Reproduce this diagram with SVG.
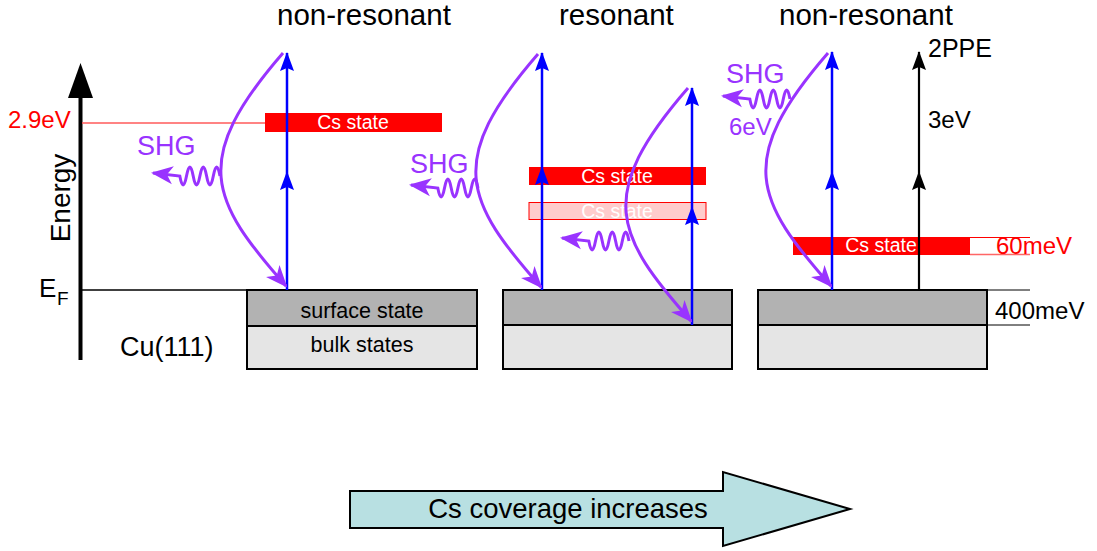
<svg xmlns="http://www.w3.org/2000/svg" width="1097" height="551" viewBox="0 0 1097 551">
<style>
text{font-family:"Liberation Sans",Arial,sans-serif}
.title{font-size:29.5px;fill:#000}
.lbl{font-size:24px}
.shg{font-size:27px;fill:#9933ff}
.cs{font-size:19.5px;fill:#fff;text-anchor:middle}
.box{font-size:21.5px;fill:#000;text-anchor:middle}
.surf{fill:#b2b2b2;stroke:#000;stroke-width:2}
.bulk{fill:#e5e5e5;stroke:#000;stroke-width:2}
.blue{stroke:#0000ff;stroke-width:2.5;fill:none;marker-end:url(#ab)}
.blk{stroke:#000;stroke-width:2.2;fill:none;marker-end:url(#ak)}
.pur{stroke:#9933ff;stroke-width:3;fill:none;marker-end:url(#ap)}
</style>
<defs>
<marker id="ab" markerUnits="userSpaceOnUse" markerWidth="26" markerHeight="20" viewBox="-22 -10 26 20" refX="0" refY="0" orient="auto"><path d="M1,0 L-18,-7 L-15,0 L-18,7 Z" fill="#0000ff"/></marker>
<marker id="ak" markerUnits="userSpaceOnUse" markerWidth="26" markerHeight="20" viewBox="-22 -10 26 20" refX="0" refY="0" orient="auto"><path d="M1,0 L-18,-7 L-15,0 L-18,7 Z" fill="#000"/></marker>
<marker id="ap" markerUnits="userSpaceOnUse" markerWidth="30" markerHeight="24" viewBox="-25 -12 30 24" refX="0" refY="0" orient="auto"><path d="M2,0 L-20,-9 L-14,0 L-20,9 Z" fill="#9933ff"/></marker>
<path id="curve" d="M283,53 C190,160 210,200 286,286"/>
<path id="wave" d="M220,178 q-3.3,-18 -6.7,0 t-6.7,0 t-6.7,0 t-6.7,0 t-6.7,0 t-6.7,0 L153,175"/>
</defs>

<g id="titles">
<text class="title" x="277" y="25">non-resonant</text>
<text class="title" x="559" y="25">resonant</text>
<text class="title" x="779" y="25">non-resonant</text>
</g>

<g id="axis">
<line x1="80.5" y1="95" x2="80.5" y2="360" stroke="#000" stroke-width="4"/>
<polygon points="80.5,63 68,98 93,98" fill="#000"/>
<text transform="translate(70,198) rotate(-90)" text-anchor="middle" style="font-size:28px">Energy</text>
<text x="39" y="297" style="font-size:26px">E<tspan x="57" y="305" style="font-size:19px">F</tspan></text>
<line x1="82" y1="290" x2="247" y2="290" stroke="#000" stroke-width="1.5"/>
<line x1="82" y1="123" x2="265" y2="123" stroke="#ff5a5a" stroke-width="1.5"/>
<text class="lbl" x="8" y="128" fill="#ff0000">2.9eV</text>
<text x="120" y="356" style="font-size:27px">Cu(111)</text>
</g>

<g id="panel1">
<rect class="surf" x="247" y="290" width="230" height="36"/>
<rect class="bulk" x="247" y="326" width="230" height="43"/>
<text class="box" x="362" y="318">surface state</text>
<text class="box" x="362" y="352">bulk states</text>
<rect x="265" y="113" width="177" height="19" fill="#ff0000"/>
<text class="cs" x="353" y="129">Cs state</text>
</g>

<g id="panel2">
<rect class="surf" x="503" y="290" width="229" height="35"/>
<rect class="bulk" x="503" y="325" width="229" height="44"/>
<rect x="529" y="167" width="177" height="18" fill="#ff0000"/>
<text class="cs" x="617" y="183">Cs state</text>
<rect x="529" y="202.5" width="177" height="17" fill="#ffcccc" stroke="#ff0000" stroke-width="1"/>
<text class="cs" x="617" y="218">Cs state</text>
</g>

<g id="panel3">
<rect class="surf" x="758" y="290" width="229" height="35"/>
<rect class="bulk" x="758" y="325" width="229" height="44"/>
<rect x="793" y="237" width="177" height="18" fill="#ff0000"/>
<text class="cs" x="881" y="252">Cs state</text>
<line x1="970" y1="237.5" x2="1030" y2="237.5" stroke="#ff0000" stroke-width="1"/>
<line x1="970" y1="254.5" x2="1030" y2="254.5" stroke="#ff6666" stroke-width="1.5"/>
<text class="lbl" x="996" y="254" fill="#ff0000">60meV</text>
<line x1="987" y1="290" x2="1030" y2="290" stroke="#000" stroke-width="1"/>
<line x1="987" y1="325" x2="1030" y2="325" stroke="#000" stroke-width="1"/>
<text class="lbl" x="995" y="319" fill="#000">400meV</text>
<text x="928" y="57" style="font-size:25px">2PPE</text>
<text class="lbl" x="928" y="128">3eV</text>
</g>

<g id="connectors">
<line class="blue" x1="287" y1="290" x2="287" y2="172"/>
<line class="blue" x1="287" y1="172" x2="287" y2="53"/>
<line class="blue" x1="542" y1="290" x2="542" y2="167"/>
<line class="blue" x1="542" y1="167" x2="542" y2="53"/>
<line class="blue" x1="692" y1="325" x2="692" y2="207"/>
<line class="blue" x1="692" y1="207" x2="692" y2="88"/>
<line class="blue" x1="832" y1="290" x2="832" y2="172"/>
<line class="blue" x1="832" y1="172" x2="832" y2="52"/>
<line class="blk" x1="919" y1="290" x2="919" y2="172"/>
<line class="blk" x1="919" y1="172" x2="919" y2="52"/>

<use href="#curve" class="pur"/>
<use href="#curve" class="pur" transform="translate(255,1)"/>
<use href="#curve" class="pur" transform="translate(405,35)"/>
<use href="#curve" class="pur" transform="translate(545,0)"/>

<use href="#wave" class="pur" transform="translate(0,-2)"/>
<use href="#wave" class="pur" transform="translate(258,10)"/>
<use href="#wave" class="pur" transform="translate(409,63)"/>
<use href="#wave" class="pur" transform="translate(570,-79)"/>
</g>

<g id="shg-labels">
<text class="shg" x="137" y="155">SHG</text>
<text class="shg" x="410" y="173">SHG</text>
<text class="shg" x="726" y="83">SHG</text>
<text class="lbl" x="729" y="135" fill="#9933ff">6eV</text>
</g>

<g id="coverage-arrow">
<polygon points="350,491 723,491 723,472 850,509 723,546 723,528 350,528" fill="#b8e0e2" stroke="#000" stroke-width="2"/>
<text x="568" y="518" text-anchor="middle" style="font-size:27.5px">Cs coverage increases</text>
</g>
</svg>
